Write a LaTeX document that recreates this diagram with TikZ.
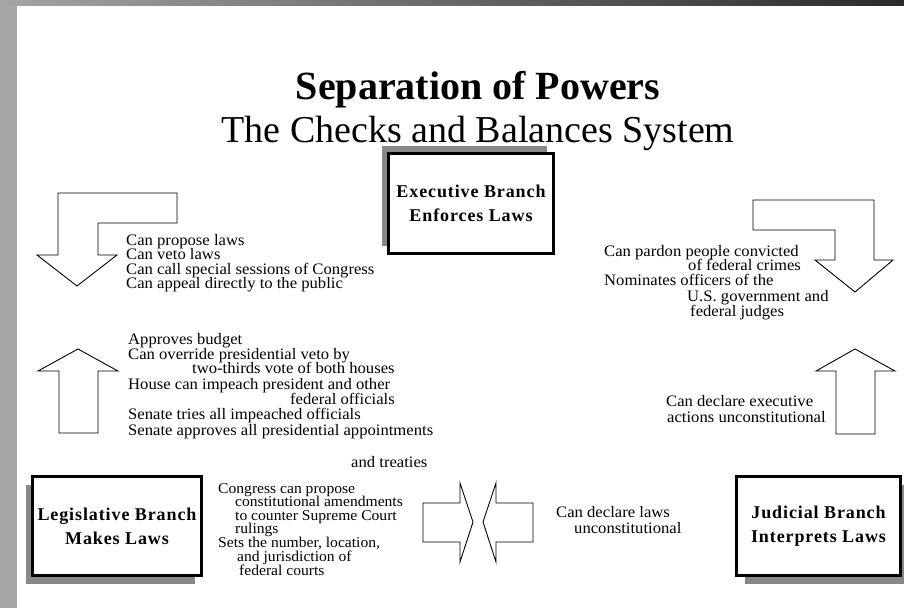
\documentclass[tikz,border=0pt]{standalone}
\usepackage{fontspec}
\setmainfont{Liberation Serif}
\newfontfamily\boxfont[LetterSpace=5]{Liberation Serif}
\newfontfamily\bodyfont[FakeStretch=1.04]{Liberation Serif}
\usetikzlibrary{shadows}
\definecolor{shadowgray}{RGB}{136,136,136}
\definecolor{frameleft}{RGB}{165,165,165}
\definecolor{frameright}{RGB}{42,42,42}
\begin{document}
\begin{tikzpicture}[x=1pt,y=-1pt,
  blockarrow/.style={draw=black, line width=0.9pt, fill=white, line join=miter},
  branch/.style={draw=black, line width=3pt, fill=white, align=center,
    font=\boxfont\bfseries\fontsize{18}{24}\selectfont, inner sep=0pt},
  txt/.style={anchor=base west, inner sep=0pt, font=\bodyfont\fontsize{16}{16}\selectfont},
  smalltxt/.style={txt, font=\bodyfont\fontsize{15}{15}\selectfont},
  titletxt/.style={anchor=base, inner sep=0pt},
]
\useasboundingbox (0,0) rectangle (904,608);
\fill[white] (0,0) rectangle (904,608);
% frame
\fill[frameleft] (0,0) rectangle (17,608);
\shade[left color=frameleft, right color=frameright] (0,0) rectangle (904,5);

% titles
\node[titletxt, font=\bfseries\fontsize{40}{40}\selectfont] (title) at (478,99) {Separation of Powers};
\node[titletxt, font=\fontsize{38}{38}\selectfont] (subtitle) at (478,142) {The Checks and Balances System};

% branch boxes
\node[branch, minimum width=165pt, minimum height=100pt,
  drop shadow={shadow xshift=-7pt, shadow yshift=8pt, fill=shadowgray, opacity=1}]
  (exec) at (471,203.5) {Executive Branch\\Enforces Laws};
\node[branch, minimum width=169pt, minimum height=99pt,
  drop shadow={shadow xshift=-7pt, shadow yshift=-8pt, fill=shadowgray, opacity=1}]
  (leg) at (117,526) {Legislative Branch\\Makes Laws};
\node[branch, minimum width=164pt, minimum height=99pt,
  drop shadow={shadow xshift=8pt, shadow yshift=-8pt, fill=shadowgray, opacity=1}]
  (jud) at (818.5,526) {Judicial Branch\\Interprets Laws};

% block arrows
\draw[blockarrow] (58,193) -- (177,193) -- (177,223) -- (98,223) -- (98,255) -- (117,255)
  -- (77,286) -- (37,255) -- (58,255) -- cycle;
\draw[blockarrow] (78,349) -- (118,371) -- (98,371) -- (98,433) -- (59,433) -- (59,371)
  -- (38,371) -- cycle;
\draw[blockarrow] (753,200) -- (874,200) -- (874,260) -- (893,260) -- (855,292) -- (815,260)
  -- (835,260) -- (835,230) -- (753,230) -- cycle;
\draw[blockarrow] (855,349) -- (895,371) -- (875,371) -- (875,434) -- (836,434) -- (836,371)
  -- (816,371) -- cycle;
\draw[blockarrow] (423,503) -- (460,503) -- (460,483) -- (473,522) -- (460,562) -- (460,542)
  -- (423,542) -- cycle;
\draw[blockarrow] (533,503) -- (496,503) -- (496,483) -- (483,522) -- (496,562) -- (496,542)
  -- (533,542) -- cycle;

% executive -> legislative
\node[txt] (ea) at (126,245) {Can propose laws};
\node[txt] (eb) at (126,259.5) {Can veto laws};
\node[txt] (ec) at (126,274) {Can call special sessions of Congress};
\node[txt] (ed) at (126,288.5) {Can appeal directly to the public};

% legislative -> executive
\node[txt] (la) at (128,344) {Approves budget};
\node[txt] (lb) at (128,359) {Can override presidential veto by};
\node[txt] (lc) at (192,373.5) {two-thirds vote of both houses};
\node[txt] (ld) at (128,389) {House can impeach president and other};
\node[txt] (le) at (290,404) {federal officials};
\node[txt] (lf) at (128,419) {Senate tries all impeached officials};
\node[txt] (lg) at (128,435) {Senate approves all presidential appointments};
\node[txt] (lh) at (351,467) {and treaties};

% executive -> judicial
\node[txt] (ja) at (604,256) {Can pardon people convicted};
\node[txt] (jb) at (688,270.5) {of federal crimes};
\node[txt] (jc) at (604,285) {Nominates officers of the};
\node[txt] (jd) at (687,301) {U.S. government and};
\node[txt] (je) at (690,316) {federal judges};

% judicial -> executive
\node[txt] (ka) at (666,406) {Can declare executive};
\node[txt] (kb) at (667,422) {actions unconstitutional};

% legislative -> judicial
\node[smalltxt] (ma) at (218,493) {Congress can propose};
\node[smalltxt] (mb) at (235,506.5) {constitutional amendments};
\node[smalltxt] (mc) at (235,520) {to counter Supreme Court};
\node[smalltxt] (md) at (235,533.5) {rulings};
\node[smalltxt] (me) at (218,547.5) {Sets the number, location,};
\node[smalltxt] (mf) at (237,561.5) {and jurisdiction of};
\node[smalltxt] (mg) at (239,575.5) {federal courts};

% judicial -> legislative
\node[txt] (na) at (556,517) {Can declare laws};
\node[txt] (nb) at (574,533) {unconstitutional};
\end{tikzpicture}
\end{document}
